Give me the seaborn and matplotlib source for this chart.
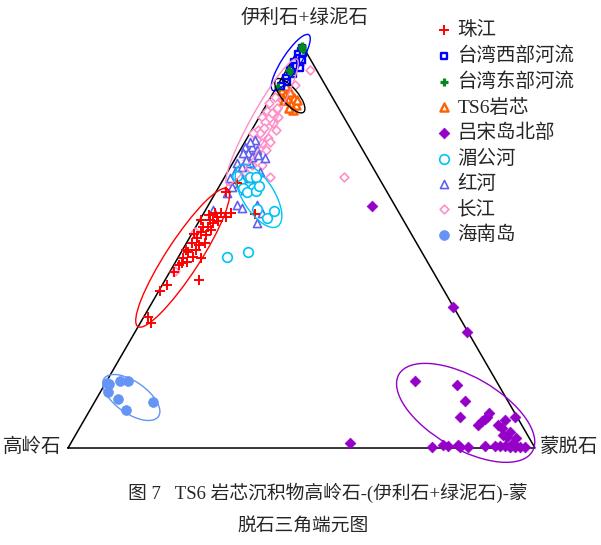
import numpy as np
import pandas as pd
import matplotlib
matplotlib.use("Agg")
import matplotlib.pyplot as plt
from matplotlib.patches import Ellipse
import seaborn as sns

sns.set_style("white")
plt.rcParams["font.family"] = ["Liberation Serif", "Noto Sans CJK SC", "DejaVu Sans"]

# Compositions in percent: ic = illite + chlorite, sm = smectite, kaolinite = 100 - ic - sm
pearl_ic = [32.4, 30.9, 38.9, 40.3, 45.3, 47.0, 48.5, 47.3, 47.0, 50.7, 52.0, 50.7, 50.2,
            52.7, 49.0, 56.4, 56.4, 54.7, 54.7, 55.7, 57.2, 57.2, 58.2, 58.2, 58.2, 63.4,
            65.6, 57.9, 41.6, 49.0, 45.8, 53.0, 54.0, 56.2, 53.5, 57.7, 46.0, 43.6]
pearl_sm = [0.9, 2.3, 0.3, 1.0, 1.2, 1.1, 1.4, 3.2, 5.0, 1.2, 1.6, 3.9, 3.0,
            3.2, 2.9, 0.3, 2.2, 1.5, 2.6, 3.2, 3.3, 5.2, 2.4, 3.7, 5.8, 2.1,
            3.4, 11.0, 7.3, 0.8, 1.5, 0.5, 3.6, 4.0, 1.7, 1.3, 2.5, 0.9]

tw_west_ic = [99.0, 98.2, 97.5, 96.5, 95.6, 94.6, 93.6, 92.6, 91.5, 90.5, 96.0, 94.0, 89.5, 97.8]
tw_west_sm = [0.5, 0.8, 0.4, 1.2, 0.6, 1.5, 0.8, 1.8, 1.0, 1.6, 2.2, 2.6, 0.8, 1.5]

tw_east_ic = [99.6, 99.0, 98.4, 93.5, 92.8, 89.3]
tw_east_sm = [0.2, 0.7, 1.1, 0.6, 1.3, 0.4]

ts6_ic = [88.6, 87.4, 86.1, 85.1, 86.6, 88.1, 89.6, 84.9, 83.7, 86.1, 84.2, 86.1]
ts6_sm = [1.5, 2.8, 4.1, 5.2, 5.1, 3.5, 1.9, 6.4, 6.4, 3.2, 5.2, 6.0]

luzon_ic = [16.6, 15.6, 11.6, 7.7, 6.7, 7.7, 8.7, 7.2, 5.7, 5.0, 4.0, 7.7, 3.2, 2.7,
            0.3, 0.7, 0.5, 0.7, 0.3, 0.3, 0.5, 0.5, 0.5, 0.3, 0.3, 0.3, 1.2, 0.3,
            59.9, 34.9, 28.7, 1.2, 2.5, 0.5, 5.7, 6.9]
luzon_sm = [66.0, 75.5, 79.2, 80.1, 85.3, 85.9, 85.8, 85.7, 89.2, 90.4, 92.6, 91.9, 91.5, 92.6,
            77.8, 79.9, 81.1, 83.1, 83.8, 85.5, 89.0, 91.2, 93.3, 94.5, 95.5, 96.6, 94.7, 97.7,
            35.2, 65.0, 71.1, 59.8, 94.7, 92.3, 85.0, 90.1]

mekong_ic = [65.8, 67.1, 67.1, 64.4, 64.4, 63.4, 63.6, 64.9, 59.2, 56.9, 58.7, 47.3, 48.5, 67.3]
mekong_sm = [3.9, 5.4, 6.7, 5.3, 7.4, 6.6, 8.5, 8.5, 10.9, 14.2, 14.8, 10.4, 14.3, 2.6]

red_ic = [74.5, 74.5, 73.8, 73.0, 73.0, 72.0, 72.5, 71.8, 70.5, 69.6, 70.5, 68.3, 68.3, 66.8,
          65.6, 64.6, 63.1, 60.1, 59.4, 58.9, 60.1, 58.2, 55.7, 76.2, 75.7, 71.3, 67.6, 66.8, 63.9]
red_sm = [0.7, 2.2, 3.6, 2.0, 1.0, 3.4, 4.4, 6.3, 0.9, 2.5, 3.7, 7.0, 1.6, 1.3,
          3.0, 2.8, 2.5, 6.1, 7.6, 1.6, 10.4, 12.4, 12.6, 1.9, 1.1, 2.4, 3.0, 5.6, 6.0]

yangtze_ic = [87.9, 86.9, 85.4, 83.4, 82.9, 84.2, 81.9, 80.7, 80.4, 81.9, 78.7, 78.0, 76.7, 75.7,
              76.2, 78.0, 86.1, 92.3, 93.1, 95.3, 93.6, 88.6, 79.2, 73.8, 72.0, 71.3, 70.0, 68.3,
              66.8, 65.8, 67.1, 74.3, 67.1, 53.5, 43.8, 78.7, 70.0, 65.3, 67.3, 64.4, 89.9, 75.5, 73.8]
yangtze_sm = [2.6, 0.9, 0.3, 0.9, 2.2, 2.7, 0.5, 1.8, 3.7, 4.0, 1.3, 2.1, 4.5, 5.4,
              2.4, 0.6, 2.8, 0.9, 1.2, 2.2, 5.0, 1.1, 2.4, 2.1, 4.0, 2.7, 4.4, 3.8,
              3.9, 3.5, 9.8, 4.0, 25.6, 0.4, 1.0, 5.2, 6.5, 2.5, 2.3, 2.1, 3.7, 3.8, 5.5]

hainan_ic = [16.0, 16.7, 16.7, 13.8, 12.2, 9.3, 11.3, 15.8]
hainan_sm = [0.3, 2.8, 4.5, 1.6, 4.7, 7.8, 12.5, 0.8]

# Envelope ellipses: centre (ic, sm), semi-axes and tilt, in ternary percent units
ellipse_specs = {
    "珠江": (47.1, 1.0, 17.6, 3.6, 57),
    "台湾西部河流": (95.4, 0.0, 7.1, 1.9, 57),
    "TS6岩芯": (87.2, 3.9, 4.6, 1.7, -50),
    "长江": (80.7, 1.2, 15.4, 2.4, 61),
    "湄公河": (62.4, 9.6, 7.7, 3.4, -58),
    "吕宋岛北部": (8.7, 80.8, 16.5, 7.7, -30),
    "海南岛": (12.5, 7.3, 7.1, 3.4, -35),
}

legend_order = ["珠江", "台湾西部河流", "台湾东部河流", "TS6岩芯", "吕宋岛北部",
                "湄公河", "红河", "长江", "海南岛"]


def to_xy(ic, sm):
    ic = np.asarray(ic, dtype=float)
    sm = np.asarray(sm, dtype=float)
    return sm + ic / 2.0, ic * np.sqrt(3) / 2.0


# drawing order (bottom to top) with marker styles
groups = [
    ("长江", yangtze_ic, yangtze_sm, dict(marker="D", s=20, color="#ff8fc8", facecolor="white", edgecolor="#ff8fc8", linewidth=1.2)),
    ("红河", red_ic, red_sm, dict(marker="^", s=34, color="#6161f0", facecolor="white", edgecolor="#6161f0", linewidth=1.2)),
    ("湄公河", mekong_ic, mekong_sm, dict(marker="o", s=48, color="#00c4f4", facecolor="white", edgecolor="#00c4f4", linewidth=1.2)),
    ("珠江", pearl_ic, pearl_sm, dict(marker="+", s=55, color="#ff0000", linewidth=1.4)),
    ("海南岛", hainan_ic, hainan_sm, dict(marker="o", s=50, color="#6495f5", facecolor="#6495f5", edgecolor="#6495f5", linewidth=0.5)),
    ("吕宋岛北部", luzon_ic, luzon_sm, dict(marker="D", s=30, color="#9400c8", facecolor="#9400c8", edgecolor="#9400c8", linewidth=0.5)),
    ("TS6岩芯", ts6_ic, ts6_sm, dict(marker="^", s=34, color="#ff6000", facecolor="white", edgecolor="#ff6000", linewidth=1.7)),
    ("台湾西部河流", tw_west_ic, tw_west_sm, dict(marker="s", s=24, color="#0000ff", facecolor="white", edgecolor="#0000ff", linewidth=1.7)),
    ("台湾东部河流", tw_east_ic, tw_east_sm, dict(marker="+", s=40, color="#008a1e", linewidth=2.3)),
]

ellipse_colors = {
    "珠江": "#ff0000", "台湾西部河流": "#0000ff", "TS6岩芯": "black", "长江": "#ff8fc8",
    "湄公河": "#00c4f4", "吕宋岛北部": "#9400c8", "海南岛": "#6495f5",
}

frames = []
for name, ic, sm, _ in groups:
    x, y = to_xy(ic, sm)
    frames.append(pd.DataFrame({"x": x, "y": y, "group": name}))
df = pd.concat(frames, ignore_index=True)

fig = plt.figure(figsize=(6.01, 5.45), dpi=100)
ax = fig.add_axes([0, 0, 1, 1])
ax.set_xlim(-14.56, 114.13)
ax.set_ylim(-20.79, 96.03)
ax.axis("off")

# triangle frame
tri_x = [0, 100, 50, 0]
tri_y = [0, 0, 50 * np.sqrt(3), 0]
ax.plot(tri_x, tri_y, color="black", lw=1.1, zorder=1)

for z, (name, ic, sm, style) in enumerate(groups):
    sns.scatterplot(data=df[df["group"] == name], x="x", y="y", ax=ax,
                    label=name, zorder=3 + z * 0.1, **style)

for name, (cic, csm, a, b, ang) in ellipse_specs.items():
    cx, cy = to_xy(cic, csm)
    ax.add_patch(Ellipse((float(cx), float(cy)), 2 * a, 2 * b, angle=ang,
                         fill=False, edgecolor=ellipse_colors[name], lw=1.0, zorder=5))

# vertex labels
ax.text(50.7, 92.2, "伊利石+绿泥石", ha="center", va="center", fontsize=14)
ax.text(-7.6, 0.2, "高岭石", ha="center", va="center", fontsize=14)
ax.text(107.4, 0.2, "蒙脱石", ha="center", va="center", fontsize=14)

handles, labels = ax.get_legend_handles_labels()
lookup = dict(zip(labels, handles))
ax.legend([lookup[k] for k in legend_order], legend_order,
          loc="upper left", bbox_to_anchor=(434 / 601, 1 - 21 / 545),
          bbox_transform=fig.transFigure, frameon=False, fontsize=14,
          handlelength=1.0, handletextpad=0.2, labelspacing=0.38,
          borderpad=0, borderaxespad=0, scatterpoints=1)

fig.text(128 / 601, 1 - 493 / 545, "图 7   TS6 岩芯沉积物高岭石-(伊利石+绿泥石)-蒙",
         ha="left", va="center", fontsize=13.5)
fig.text(303 / 601, 1 - 526 / 545, "脱石三角端元图", ha="center", va="center", fontsize=13.5)

fig.savefig("out.png", dpi=100)
